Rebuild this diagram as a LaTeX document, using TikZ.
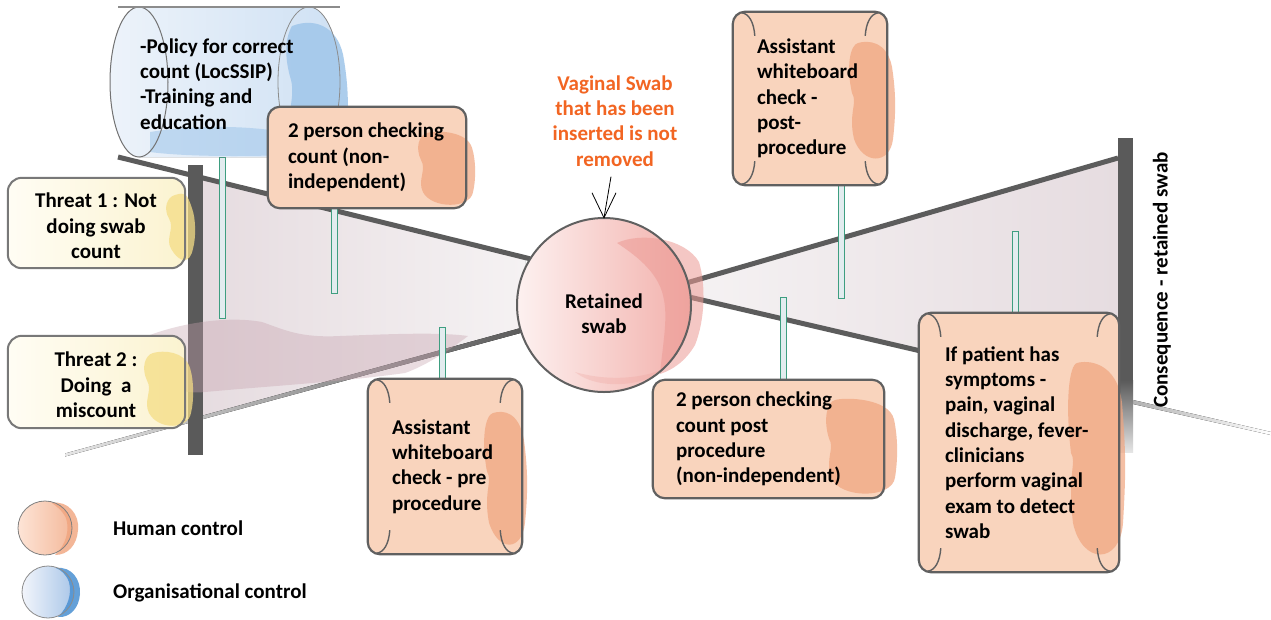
\documentclass[tikz,border=0pt]{standalone}
\usepackage{fontspec}
\setmainfont{Carlito}
\usetikzlibrary{arrows.meta}
\pgfdeclarelayer{back}
\pgfsetlayers{back,main}
\definecolor{bargray}{HTML}{5A5A5A}
\definecolor{linegray}{HTML}{5C5C5C}
\definecolor{salmon}{HTML}{F9D4BD}
\definecolor{salmonblob}{HTML}{F0A47E}
\definecolor{boxgray}{HTML}{606060}
\definecolor{creamL}{HTML}{FFFDF4}
\definecolor{creamR}{HTML}{FBF3D0}
\definecolor{yelblob}{HTML}{F5DD85}
\definecolor{wedgeD}{HTML}{E6DCE0}
\definecolor{wedgeL}{HTML}{F5F2F3}
\definecolor{circL}{HTML}{FDF1F0}
\definecolor{circR}{HTML}{F2B0AB}
\definecolor{circblob}{HTML}{EC9A94}
\definecolor{blueL}{HTML}{EDF3FA}
\definecolor{blueR}{HTML}{CFE1F4}
\definecolor{blueblob}{HTML}{A3C8EB}
\definecolor{bluedeep}{HTML}{4A90D2}
\definecolor{stemfill}{HTML}{E2ECEF}
\definecolor{stemline}{HTML}{3E9E80}
\definecolor{topred}{HTML}{F26522}
\definecolor{smudge}{HTML}{C7A3AF}
\definecolor{humL}{HTML}{FDE4D6}
\definecolor{humR}{HTML}{F4B99B}
\definecolor{orgL}{HTML}{F2F5FB}
\definecolor{orgR}{HTML}{A9C6E8}

\tikzset{
  tx/.style={font=\fontsize{21}{25.3}\selectfont\bfseries, inner sep=0pt, align=left},
  txc/.style={tx, align=center},
  ctrlfill/.style={rectangle, rounded corners=12pt, fill=salmon, inner sep=0pt},
  ctrlline/.style={draw=boxgray, line width=2.2pt, rounded corners=12pt},
  markline/.style={draw=boxgray, line width=1.4pt},
  thr/.style={rectangle, rounded corners=14pt, left color=creamL, right color=creamR, inner sep=0pt},
  thrline/.style={draw=boxgray!85, line width=2pt, rounded corners=14pt},
  stemstyle/.style={fill=stemfill, draw=stemline, line width=1pt},
  wline/.style={draw=linegray, line width=5pt},
  thinarrow/.style={draw=black, line width=0.8pt},
}

\newcommand\tintblob[5]{%
  \pgfmathsetmacro\blobm{(#4+#5)/2}%
  \pgfmathsetmacro\blobq{(#5-#4)/5}%
  \fill[#1] (#2+10,#4) .. controls (#2+20,#4-3) and (#3-8,#4-2) .. (#3-3,#4+\blobq)
    .. controls (#3+1,\blobm-10) and (#3+1,\blobm+10) .. (#3-2,#5-\blobq)
    .. controls (#3-5,#5+2) and (#2+15,#5+2) .. (#2+6,#5-\blobq)
    .. controls (#2,\blobm+10) and (#2+10,\blobm) .. (#2+4,\blobm-10)
    .. controls (#2-2,#4+\blobq) and (#2+2,#4+2) .. (#2+10,#4) -- cycle;}

\newcommand\scrollmarks[1]{%
  \foreach \cn/\sx/\sy in {north west/1/1,north east/-1/1,south west/1/-1,south east/-1/-1}{%
    \begin{scope}[shift={(#1.\cn)}, xscale=\sx, yscale=\sy]
      \draw[markline] (9,1) .. controls (16,2) and (21,10) .. (22,24);
    \end{scope}}}

\begin{document}
\begin{tikzpicture}[x=1pt,y=-1pt]
\useasboundingbox (0,0) rectangle (1271,619);

% ---------- top event circle ----------
\node[circle, minimum size=174, inner sep=0pt, left color=circL, right color=circR] (top) at (604,305) {};
\fill[circblob, opacity=0.55] (617,243) .. controls (640,232) and (685,238) .. (699,262)
  .. controls (706,285) and (705,320) .. (695,345) .. controls (685,362) and (672,370) .. (660,374)
  .. controls (662,350) and (668,320) .. (664,300) .. controls (660,275) and (640,258) .. (617,243) -- cycle;
\fill[circblob, opacity=0.25] (575,372) .. controls (610,382) and (645,378) .. (665,368)
  .. controls (650,385) and (600,392) .. (575,372) -- cycle;
\draw[boxgray, line width=2pt] (top.center) circle[radius=87];
\node[txc] (topT) at (604,314) {Retained\\swab};

\node[txc, text=topred] (te) at (615,121) {Vaginal Swab\\that has been\\inserted is not\\removed};
\draw[thinarrow] ([shift={(-4pt,-10pt)}]te.south) -- (top.north);
\draw[thinarrow] ([shift={(-12pt,25pt)}]top.north) -- (top.north) -- ([shift={(12pt,25pt)}]top.north);

% ---------- organisational control (cylinder) ----------
\fill[left color=blueL, right color=blueR] (139,7) .. controls (123,7) and (110,41) .. (110,82)
  .. controls (110,123) and (123,157) .. (139,157) -- (309,157)
  .. controls (326,157) and (340,123) .. (340,82) .. controls (340,41) and (326,7) .. (309,7) -- cycle;
\fill[blueblob, opacity=0.6] (150,132) .. controls (200,124) and (260,126) .. (292,134)
  .. controls (300,145) and (300,152) .. (290,155) .. controls (230,157) and (180,156) .. (150,152) -- cycle;
\fill[blueblob, opacity=0.9] (292,26) .. controls (318,16) and (340,30) .. (344,60)
  .. controls (349,90) and (350,125) .. (342,145) .. controls (325,155) and (300,152) .. (290,140)
  .. controls (284,120) and (296,100) .. (291,80) .. controls (285,60) and (284,40) .. (292,26) -- cycle;
\draw[black!55, line width=1pt] (139,82) ellipse[x radius=29, y radius=75];
\draw[black!45, line width=0.8pt] (309,82) ellipse[x radius=31, y radius=75];
\draw[black!45, line width=1.2pt] (118,7) -- (340,7);
\node[tx, anchor=west] (org) at (140,84) {-Policy for correct\\count (LocSSIP)\\-Training and\\education};
\coordinate (orgbot) at (222,157);

% ---------- human control boxes ----------
\node[ctrlfill, minimum width=198, minimum height=101] (c2) at (367,157.5) {};
\tintblob{salmonblob, opacity=0.7}{417}{475}{133}{207}
\draw[ctrlline] (c2.north west) rectangle (c2.south east);
\node[tx, anchor=west] (c2t) at ([xshift=20pt]c2.west) {2 person checking\\count (non-\\independent)};

\node[ctrlfill, minimum width=154, minimum height=175] (pre) at (445,466.5) {};
\tintblob{salmonblob, opacity=0.7}{483}{527}{413}{550}
\draw[ctrlline] (pre.north west) rectangle (pre.south east);
\scrollmarks{pre}
\node[tx, anchor=west] (pret) at ([xshift=24pt]pre.west) {Assistant\\whiteboard\\check - pre\\procedure};

\node[ctrlfill, minimum width=154, minimum height=173] (post) at (810,98.5) {};
\tintblob{salmonblob, opacity=0.7}{848}{895}{43}{163}
\draw[ctrlline] (post.north west) rectangle (post.south east);
\scrollmarks{post}
\node[tx, anchor=west] (postt) at ([xshift=24pt]post.west) {Assistant\\whiteboard\\check -\\post-\\procedure};

\node[ctrlfill, minimum width=231, minimum height=118] (post2) at (768.5,439) {};
\tintblob{salmonblob, opacity=0.7}{825}{897}{400}{497}
\draw[ctrlline] (post2.north west) rectangle (post2.south east);
\node[tx, anchor=west] (post2t) at ([xshift=23pt]post2.west) {2 person checking\\count post\\procedure\\(non-independent)};

\node[ctrlfill, minimum width=200, minimum height=259] (pat) at (1019,442.5) {};
\tintblob{salmonblob, opacity=0.7}{1067}{1125}{363}{563}
\draw[ctrlline] (pat.north west) rectangle (pat.south east);
\scrollmarks{pat}
\node[tx, anchor=west] (patt) at ([xshift=26pt]pat.west) {If patient has\\symptoms -\\pain, vaginal\\discharge, fever-\\clinicians\\perform vaginal\\exam to detect\\swab};

% ---------- threats ----------
\node[thr, minimum width=177, minimum height=90] (t1) at (96.5,223) {};
\tintblob{yelblob, opacity=0.75}{165}{195}{195}{262}
\draw[thrline] (t1.north west) rectangle (t1.south east);
\node[txc] (t1t) at (96,226) {Threat 1 : Not\\doing swab\\count};

\node[thr, minimum width=177, minimum height=92] (t2) at (96.5,382) {};
\tintblob{yelblob, opacity=0.75}{143}{193}{353}{428}
\draw[thrline] (t2.north west) rectangle (t2.south east);
\node[txc] (t2t) at (96,385) {Threat 2 :\\Doing~~a\\miscount};

% ---------- consequence ----------
\node[tx, rotate=90] (cons) at (1162,280) {Consequence - retained swab};

% ---------- legend ----------
\node[circle, minimum size=54, inner sep=0pt, left color=humL, right color=humR] (lh) at (45,528) {};
\fill[salmonblob, opacity=0.8] (52,503) .. controls (68,500) and (80,515) .. (78,530)
  .. controls (77,545) and (68,555) .. (55,555) .. controls (66,545) and (70,530) .. (66,518)
  .. controls (62,510) and (56,506) .. (52,503) -- cycle;
\draw[black!50, line width=0.8pt] (lh.center) circle[radius=27];
\node[tx, anchor=west] (lht) at (113,528) {Human control};

\node[circle, minimum size=52, inner sep=0pt, left color=orgL, right color=orgR] (lo) at (48,592) {};
\fill[bluedeep, opacity=0.85] (56,568) .. controls (72,566) and (81,580) .. (80,594)
  .. controls (79,608) and (70,618) .. (58,617) .. controls (68,607) and (72,594) .. (69,582)
  .. controls (66,574) and (61,570) .. (56,568) -- cycle;
\draw[black!45, line width=0.8pt] (lo.center) circle[radius=26];
\node[tx, anchor=west] (lot) at (113,593) {Organisational control};

% ---------- background layer: wedges, lines, bars, stems ----------
\begin{pgfonlayer}{back}
  \fill[white] (0,0) rectangle (1271,619);
  \fill[left color=wedgeD, right color=wedgeL] (202,177) -- (525,257) -- (525,328) -- (202,416) -- cycle;
  \fill[left color=wedgeL, right color=wedgeD] (690,283) -- (1118,158) -- (1118,397) -- (690,296) -- cycle;

  \coordinate (ltop) at (118,157);
  \coordinate (lbot) at (65,455);
  \coordinate (rtop) at (1118,158);
  \coordinate (rbot) at (1118,397);
  \coordinate (rfar) at (1271,432);

  \draw[wline] (ltop) -- (top.148);
  \fill[left color=black!10, right color=linegray] ([yshift=1.5pt]lbot) -- ([yshift=2.5pt]top.197)
     -- ([yshift=-2.5pt]top.197) -- ([yshift=-1.5pt]lbot) -- cycle;
  \draw[wline] (top.15) -- (rtop);
  \draw[wline] (top.5) -- (rbot);
  \fill[left color=black!30, right color=white] (1133,400) -- (rfar) -- ([yshift=-3pt]rfar) -- (1133,404) -- cycle;

  \node[fill=bargray, minimum width=15, minimum height=290, inner sep=0pt] (lbar) at (195,310) {};
  \node[fill=bargray, minimum width=15, minimum height=242, inner sep=0pt] (rbar) at (1125.5,259) {};
  \fill[top color=bargray, bottom color=black!10] (rbar.south west) rectangle ([yshift=-72pt]rbar.south east);

  \fill[smudge, opacity=0.38] (150,335) .. controls (185,322) and (230,316) .. (262,322)
    .. controls (285,330) and (300,338) .. (340,336) .. controls (390,334) and (440,332) .. (468,336)
    .. controls (450,350) and (425,366) .. (405,373)
    .. controls (340,382) and (270,386) .. (205,392) .. controls (172,395) and (150,382) .. (150,335) -- cycle;

  \coordinate (s1) at (222,318);
  \coordinate (s2) at (334.5,293);
  \coordinate (s3) at (442.5,327);
  \coordinate (s4) at (841,298);
  \coordinate (s5) at (783,297);
  \coordinate (s6) at (1015,231);
  \draw[stemstyle] ([xshift=-3pt]s1) rectangle ([xshift=3pt]s1 |- orgbot);
  \draw[stemstyle] ([xshift=-3pt]s2) rectangle ([xshift=3pt]s2 |- c2.south);
  \draw[stemstyle] ([xshift=-3pt]s3) rectangle ([xshift=3pt]s3 |- pre.north);
  \draw[stemstyle] ([xshift=-3pt]s4) rectangle ([xshift=3pt]s4 |- post.south);
  \draw[stemstyle] ([xshift=-3pt]s5) rectangle ([xshift=3pt]s5 |- post2.north);
  \draw[stemstyle] ([xshift=-3pt]s6) rectangle ([xshift=3pt]s6 |- pat.north);
\end{pgfonlayer}
\end{tikzpicture}
\end{document}
